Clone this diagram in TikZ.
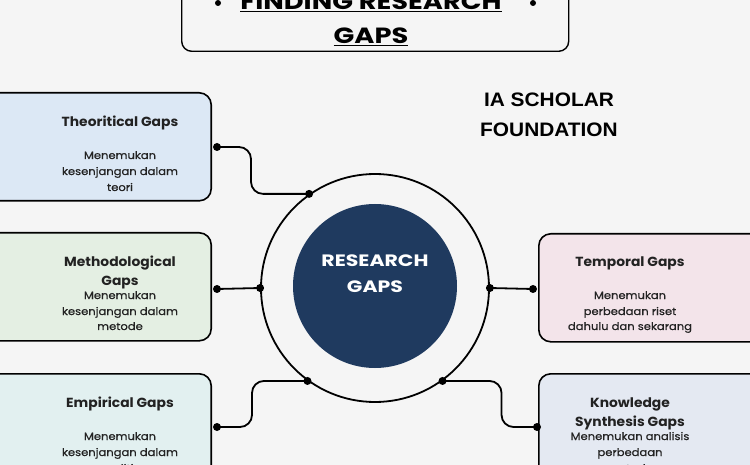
\documentclass[tikz,border=0pt]{standalone}
\usepackage{fontspec}
\setmainfont{Poppins}
\newfontfamily\iafont[FakeStretch=1.07]{Liberation Sans}
\newfontfamily\widefont[FakeStretch=1.24]{Poppins}
\newfontfamily\ttlfont[FakeStretch=1.05]{Poppins}
\newfontfamily\dscfont[FakeStretch=1.1,FakeBold=0.6]{Poppins}
\definecolor{bgc}{HTML}{F5F5F5}
\definecolor{theoc}{HTML}{DCE8F5}
\definecolor{methc}{HTML}{E4EFE3}
\definecolor{empc}{HTML}{E2F0F0}
\definecolor{tempc}{HTML}{F3E4EA}
\definecolor{knowc}{HTML}{E4E9F2}
\definecolor{navyc}{HTML}{1F3A5F}
\definecolor{inkc}{HTML}{222222}
\begin{document}
\begin{tikzpicture}[x=1pt,y=-1pt,
  gapbox/.style={draw=black, line width=1.6pt, rounded corners=12pt, minimum width=260pt, minimum height=108pt, inner sep=0pt},
  dotn/.style={circle, fill=black, inner sep=0pt, minimum size=8pt},
  conn/.style={line width=1.8pt, rounded corners=12pt},
  ttl/.style={anchor=base, inner sep=0pt, text=inkc, font=\ttlfont\fontsize{13.2}{15}\selectfont\bfseries},
  dsc/.style={anchor=base, inner sep=0pt, text=inkc, font=\dscfont\fontsize{10.5}{12}\selectfont}]
\useasboundingbox (0,0) rectangle (750,465);
\fill[bgc] (0,0) rectangle (750,465);
\clip (0,0) rectangle (750,465);
% title box
\node[draw=black, line width=1.4pt, rounded corners=10pt, minimum width=387pt, minimum height=90pt, anchor=south west, inner sep=0pt] (titlebox) at (181,52) {};
\node[anchor=base, inner sep=0pt, font=\widefont\fontsize{22}{26}\selectfont\bfseries] (title1) at (371,10) {\underline{FINDING RESEARCH}};
\node[anchor=base, inner sep=0pt, font=\widefont\fontsize{22}{26}\selectfont\bfseries] (title2) at (371,44) {\underline{GAPS}};
\node[circle, fill=black, inner sep=0pt, minimum size=6pt] (tdl) at (218,3) {};
\node[circle, fill=black, inner sep=0pt, minimum size=6pt] (tdr) at (533,3) {};
% IA scholar
\node[anchor=base, inner sep=0pt, font=\iafont\fontsize{19.5}{22}\selectfont\bfseries] (ia1) at (549,107) {IA SCHOLAR};
\node[anchor=base, inner sep=0pt, font=\iafont\fontsize{19.5}{22}\selectfont\bfseries] (ia2) at (549,137) {FOUNDATION};
% centre
\node[circle, draw=black, line width=1.8pt, minimum size=228pt, inner sep=0pt] (ring) at (375,288) {};
\node[circle, fill=navyc, minimum size=164pt, inner sep=0pt] (core) at (375,286) {};
\node[anchor=base, inner sep=0pt, text=white, font=\widefont\fontsize{16.5}{20}\selectfont\bfseries] (rg1) at (375,267) {RESEARCH};
\node[anchor=base, inner sep=0pt, text=white, font=\widefont\fontsize{16.5}{20}\selectfont\bfseries] (rg2) at (375,293) {GAPS};
% boxes
\node[gapbox, fill=theoc, anchor=north east] (theo) at (212,92) {};
\node[gapbox, fill=methc, anchor=north east] (meth) at (212,232) {};
\node[gapbox, fill=empc, anchor=north east] (emp) at (212,373) {};
\node[gapbox, fill=tempc, anchor=north west] (temp) at (538,233) {};
\node[gapbox, fill=knowc, anchor=north west] (know) at (538,373) {};
% texts
\node[ttl] (theot) at (120,127) {Theoritical Gaps};
\node[dsc] (theod1) at (120,159) {Menemukan};
\node[dsc] (theod2) at (120,175) {kesenjangan dalam};
\node[dsc] (theod3) at (120,191) {teori};
\node[ttl] (metht1) at (120,267) {Methodological};
\node[ttl] (metht2) at (120,286) {Gaps};
\node[dsc] (methd1) at (120,299) {Menemukan};
\node[dsc] (methd2) at (120,315) {kesenjangan dalam};
\node[dsc] (methd3) at (120,330) {metode};
\node[ttl] (empt) at (120,407) {Empirical Gaps};
\node[dsc] (empd1) at (120,440) {Menemukan};
\node[dsc] (empd2) at (120,456) {kesenjangan dalam};
\node[dsc] (empd3) at (120,472) {penelitian};
\node[ttl] (tempt) at (630,267) {Temporal Gaps};
\node[dsc] (tempd1) at (630,299) {Menemukan};
\node[dsc] (tempd2) at (630,315) {perbedaan riset};
\node[dsc] (tempd3) at (630,330) {dahulu dan sekarang};
\node[ttl] (knowt1) at (630,407) {Knowledge};
\node[ttl] (knowt2) at (630,426) {Synthesis Gaps};
\node[dsc] (knowd1) at (630,440) {Menemukan analisis};
\node[dsc] (knowd2) at (630,456) {perbedaan};
\node[dsc] (knowd3) at (630,472) {metode};
% dots
\node[dotn] (theop) at (217,147) {};
\node[dotn] (methp) at (217,289) {};
\node[dotn] (empp) at (217,427) {};
\node[dotn] (tempp) at (533,289) {};
\node[dotn] (knowp) at (537,427) {};
\node[dotn] (r1) at (ring.125) {};
\node[dotn] (r2) at (ring.180) {};
\node[dotn] (r3) at (ring.234) {};
\node[dotn] (r4) at (ring.0) {};
\node[dotn] (r5) at (ring.-54) {};
% connectors
\draw[conn] (theop.center) -- ++(34,0) |- (r1.center);
\draw[conn] (methp.center) -- (r2.center);
\draw[conn] (empp.center) -- ++(35,0) |- (r3.center);
\draw[conn] (r4.center) -- (tempp.center);
\draw[conn] (r5.center) -- ++(59,0) |- (knowp.center);
\end{tikzpicture}
\end{document}
